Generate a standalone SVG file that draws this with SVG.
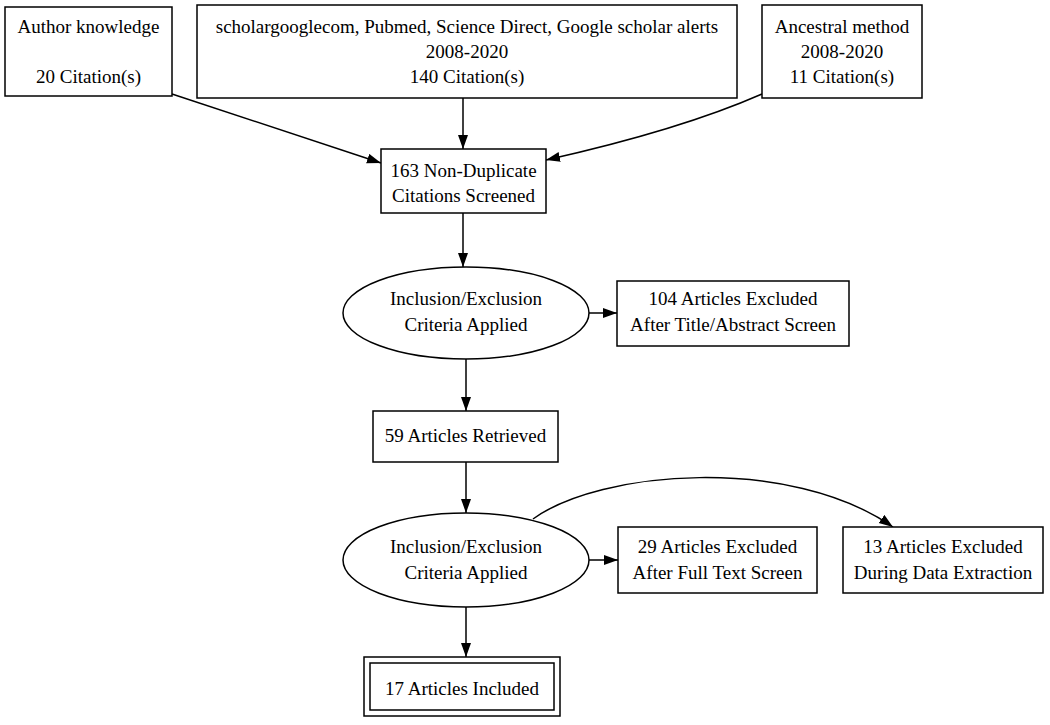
<svg xmlns="http://www.w3.org/2000/svg" width="1050" height="725" viewBox="0 0 1050 725">
<style>
.n{fill:#fff;stroke:#000;stroke-width:1.5}
.t{font-family:"Liberation Serif","Times New Roman",serif;font-size:19px;fill:#000;text-anchor:middle}
.e{fill:none;stroke:#000;stroke-width:1.5;marker-end:url(#ah)}
</style>
<defs>
<marker id="ah" markerUnits="userSpaceOnUse" markerWidth="15" markerHeight="11" refX="14" refY="5" orient="auto">
<path d="M0,0 L14,5 L0,10 z" fill="#000"/>
</marker>
</defs>
<rect width="1050" height="725" fill="#fff"/>
<g id="edges">
<path class="e" d="M172,94 L381,163"/>
<path class="e" d="M463,98 L463,149"/>
<path class="e" d="M762,94 Q680,130 546,160"/>
<path class="e" d="M463,213 L463,267"/>
<path class="e" d="M589,313 L617,313"/>
<path class="e" d="M466,359 L466,411"/>
<path class="e" d="M466,462 L466,513"/>
<path class="e" d="M589,560 L618,560"/>
<path class="e" d="M533,519 C600,470 790,455 893,527"/>
<path class="e" d="M466,607 L466,657"/>
</g>
<g id="author">
<rect class="n" x="5" y="7" width="167" height="89"/>
<text class="t" x="88.5" y="33">Author knowledge</text>
<text class="t" x="88.5" y="83">20 Citation(s)</text>
</g>
<g id="search">
<rect class="n" x="197" y="5" width="540" height="93"/>
<text class="t" x="467" y="33">scholargooglecom, Pubmed, Science Direct, Google scholar alerts</text>
<text class="t" x="467" y="58">2008-2020</text>
<text class="t" x="467" y="83">140 Citation(s)</text>
</g>
<g id="ancestral">
<rect class="n" x="762" y="5" width="160" height="93"/>
<text class="t" x="842" y="33">Ancestral method</text>
<text class="t" x="842" y="58">2008-2020</text>
<text class="t" x="842" y="83">11 Citation(s)</text>
</g>
<g id="nondup">
<rect class="n" x="381" y="149" width="165" height="64"/>
<text class="t" x="463.5" y="177">163 Non-Duplicate</text>
<text class="t" x="463.5" y="202">Citations Screened</text>
</g>
<g id="criteria1">
<ellipse class="n" cx="466" cy="313" rx="123" ry="46"/>
<text class="t" x="466" y="305">Inclusion/Exclusion</text>
<text class="t" x="466" y="331">Criteria Applied</text>
</g>
<g id="excluded1">
<rect class="n" x="617" y="281" width="232" height="65"/>
<text class="t" x="733" y="305">104 Articles Excluded</text>
<text class="t" x="733" y="331">After Title/Abstract Screen</text>
</g>
<g id="retrieved">
<rect class="n" x="373" y="411" width="185" height="51"/>
<text class="t" x="465.5" y="442">59 Articles Retrieved</text>
</g>
<g id="criteria2">
<ellipse class="n" cx="466" cy="560" rx="123" ry="47"/>
<text class="t" x="466" y="553">Inclusion/Exclusion</text>
<text class="t" x="466" y="579">Criteria Applied</text>
</g>
<g id="excluded2">
<rect class="n" x="618" y="527" width="199" height="66"/>
<text class="t" x="717.5" y="553">29 Articles Excluded</text>
<text class="t" x="717.5" y="579">After Full Text Screen</text>
</g>
<g id="excluded3">
<rect class="n" x="843" y="527" width="200" height="66"/>
<text class="t" x="943" y="553">13 Articles Excluded</text>
<text class="t" x="943" y="579">During Data Extraction</text>
</g>
<g id="included">
<rect class="n" x="364" y="657" width="196" height="59"/>
<rect class="n" x="370" y="663" width="184" height="47"/>
<text class="t" x="462" y="695">17 Articles Included</text>
</g>
</svg>
